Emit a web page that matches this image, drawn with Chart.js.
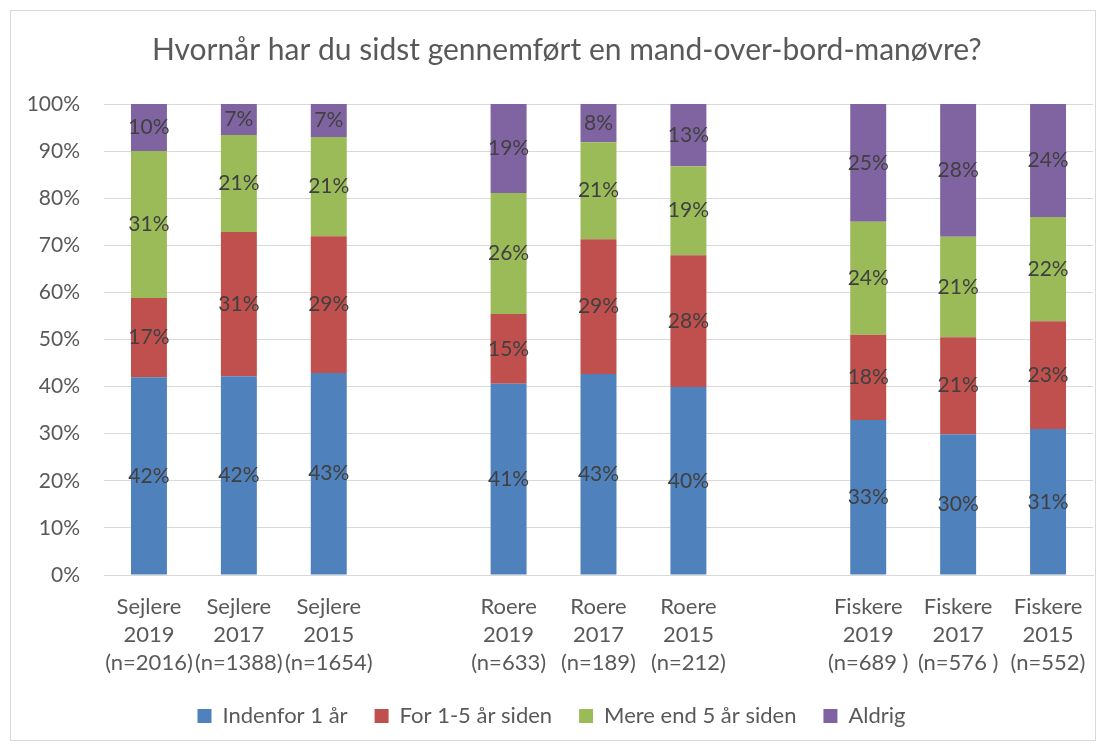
<!DOCTYPE html>
<html lang="da">
<head>
    <meta charset="UTF-8">
    <title>Mand-over-bord-manøvre</title>
    <script src="https://cdn.jsdelivr.net/npm/chart.js"></script>
    <style>
        html, body { margin: 0; padding: 0; background: #fff; }
        #wrap { position: relative; width: 1105px; height: 746px; }
        #frame { position: absolute; left: 10px; top: 10px; width: 1084px; height: 729px; border: 1px solid #d9d9d9; pointer-events: none; }
    </style>
</head>
<body>
    <div id="wrap">
        <canvas id="myChart" width="1105" height="746"></canvas>
        <div id="frame"></div>
    </div>
    <script>
        // Kategorier (tomme pladser mellem grupperne)
        const categories = [
            ['Sejlere', '2019', '(n=2016)'], ['Sejlere', '2017', '(n=1388)'], ['Sejlere', '2015', '(n=1654)'],
            '',
            ['Roere', '2019', '(n=633)'], ['Roere', '2017', '(n=189)'], ['Roere', '2015', '(n=212)'],
            '',
            ['Fiskere', '2019', '(n=689 )'], ['Fiskere', '2017', '(n=576 )'], ['Fiskere', '2015', '(n=552)']
        ];
        const seriesNames = ['Indenfor 1 år', 'For 1-5 år siden', 'Mere end 5 år siden', 'Aldrig'];
        const indenfor1 = [42.0, 42.2, 42.9, null, 40.6, 42.7, 39.9, null, 32.9, 29.9, 31.0];
        const for1til5 = [16.8, 30.6, 29.0, null, 14.8, 28.6, 28.0, null, 18.1, 20.6, 22.9];
        const mereEnd5 = [31.2, 20.6, 21.1, null, 25.7, 20.6, 18.9, null, 24.0, 21.3, 22.1];
        const aldrig = [10.0, 6.6, 7.0, null, 18.9, 8.1, 13.2, null, 25.0, 28.2, 24.0];
        const yTicks = [0, 10, 20, 30, 40, 50, 60, 70, 80, 90, 100];
        const colors = ['#4F81BD', '#C0504D', '#9BBB59', '#8064A2'];

        const FONT = "Lato, 'Open Sans', sans-serif";

        // Procent-etiketter midt i hver bar
        const barLabels = {
            id: 'barLabels',
            afterDatasetsDraw(chart) {
                const ctx = chart.ctx;
                ctx.save();
                ctx.font = '21px ' + FONT;
                ctx.fillStyle = '#404040';
                ctx.textAlign = 'center';
                ctx.textBaseline = 'middle';
                chart.data.datasets.forEach((ds, i) => {
                    chart.getDatasetMeta(i).data.forEach((bar, j) => {
                        const v = ds.data[j];
                        if (v == null) return;
                        const p = bar.getProps(['x', 'y', 'base'], true);
                        ctx.fillText(Math.round(v) + '%', p.x, (p.y + p.base) / 2);
                    });
                });
                ctx.restore();
            }
        };

        const ctx = document.getElementById('myChart').getContext('2d');
        new Chart(ctx, {
            type: 'bar',
            data: {
                labels: categories,
                datasets: [indenfor1, for1til5, mereEnd5, aldrig].map((d, i) => ({
                    label: seriesNames[i],
                    data: d,
                    backgroundColor: colors[i],
                    categoryPercentage: 1,
                    barPercentage: 0.4
                }))
            },
            options: {
                responsive: false,
                animation: false,
                layout: { padding: { left: 10, right: 12, top: 12, bottom: 9 } },
                plugins: {
                    title: {
                        display: true,
                        text: '\u00a0\u00a0\u00a0\u00a0Hvornår har du sidst gennemført en mand-over-bord-manøvre?',
                        color: '#595959',
                        font: { family: FONT, size: 30, weight: 'normal' },
                        padding: { top: 20, bottom: 36 }
                    },
                    legend: {
                        position: 'bottom',
                        labels: {
                            color: '#595959',
                            font: { family: FONT, size: 22 },
                            boxWidth: 14,
                            boxHeight: 14,
                            padding: 27
                        }
                    },
                    tooltip: { enabled: false }
                },
                scales: {
                    x: {
                        stacked: true,
                        grid: { display: false },
                        border: { color: '#d9d9d9', width: 1 },
                        afterFit(axis) { axis.height = 103; },
                        ticks: { color: '#595959', font: { family: FONT, size: 22, lineHeight: 1.27 }, maxRotation: 0, autoSkip: false, padding: 10 }
                    },
                    y: {
                        stacked: true,
                        min: 0,
                        max: 100,
                        afterBuildTicks(axis) { axis.ticks = yTicks.map(v => ({ value: v })); },
                        afterFit(axis) { axis.width = 94; },
                        grid: { color: '#d9d9d9', drawTicks: false },
                        border: { display: false },
                        ticks: { color: '#595959', font: { family: FONT, size: 21 }, padding: 24, callback: v => v + '%' }
                    }
                }
            },
            plugins: [barLabels]
        });
    </script>
</body>
</html>
